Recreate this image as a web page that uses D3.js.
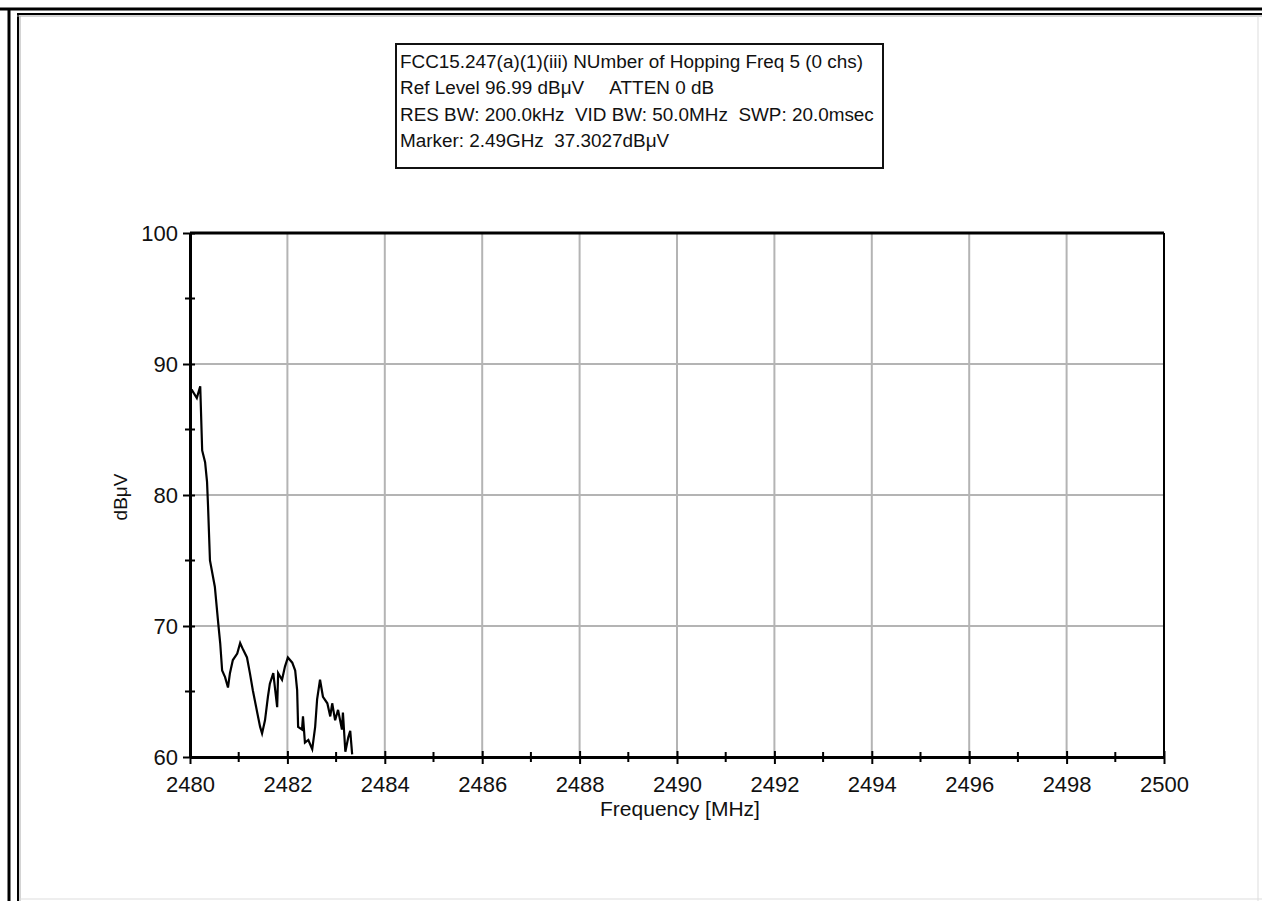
<!DOCTYPE html>
<html><head><meta charset="utf-8">
<script src="https://cdn.jsdelivr.net/npm/d3@7"></script>
<style>
html,body{margin:0;padding:0;background:#fff;}
svg{display:block;}
text{font-family:"Liberation Sans Narrow","Arial Narrow","Liberation Sans",Arial,sans-serif;fill:#111;}
</style></head>
<body>
<svg id="chart" width="1262" height="901"></svg>
<script>
const infoLines = [
  "FCC15.247(a)(1)(iii) NUmber of Hopping Freq 5 (0 chs)",
  "Ref Level 96.99 dB\u03BCV     ATTEN 0 dB",
  "RES BW: 200.0kHz  VID BW: 50.0MHz  SWP: 20.0msec",
  "Marker: 2.49GHz  37.3027dB\u03BCV"
];
const xTickValues = [2480,2482,2484,2486,2488,2490,2492,2494,2496,2498,2500];
const xMinorValues = [2481,2483,2485,2487,2489,2491,2493,2495,2497,2499];
const yTickValues = [60,70,80,90,100];
const yMinorValues = [65,75,85,95];
const xLabel = "Frequency [MHz]";
const yLabel = "dB\u03BCV";
const freq = [2480.00,2480.04,2480.14,2480.21,2480.25,2480.31,2480.35,2480.37,2480.41,2480.51,2480.58,2480.62,2480.66,2480.72,2480.78,2480.82,2480.88,2480.97,2481.03,2481.09,2481.17,2481.23,2481.29,2481.38,2481.44,2481.48,2481.54,2481.60,2481.64,2481.71,2481.75,2481.79,2481.81,2481.89,2481.95,2482.01,2482.10,2482.16,2482.20,2482.22,2482.30,2482.32,2482.36,2482.43,2482.51,2482.57,2482.61,2482.67,2482.73,2482.82,2482.88,2482.92,2482.98,2483.04,2483.12,2483.14,2483.19,2483.25,2483.29,2483.33];
const level = [88.0,88.0,87.4,88.3,83.4,82.5,81.0,79.2,75.0,73.0,70.2,68.7,66.6,66.1,65.3,66.4,67.4,67.9,68.7,68.2,67.6,66.4,65.1,63.4,62.3,61.8,62.8,64.6,65.6,66.4,65.1,63.8,66.4,65.9,66.9,67.6,67.2,66.6,65.1,62.3,62.1,63.1,61.1,61.3,60.6,62.3,64.4,65.9,64.6,64.1,63.1,64.1,62.8,63.6,62.1,63.4,60.4,61.5,62.0,60.2];

const svg = d3.select("#chart");
const W = 1262, H = 901;
// frame
svg.append("line").attr("x1",0).attr("x2",W).attr("y1",9).attr("y2",9).attr("stroke","#000").attr("stroke-width",3);
svg.append("line").attr("x1",9).attr("x2",9).attr("y1",9).attr("y2",H).attr("stroke","#000").attr("stroke-width",3);
svg.append("line").attr("x1",17).attr("x2",W).attr("y1",14).attr("y2",14).attr("stroke","#000").attr("stroke-width",2);
svg.append("line").attr("x1",18).attr("x2",18).attr("y1",14).attr("y2",H).attr("stroke","#000").attr("stroke-width",2);
svg.append("line").attr("x1",17).attr("x2",W).attr("y1",16).attr("y2",16).attr("stroke","#aaa").attr("stroke-width",1);
svg.append("line").attr("x1",20).attr("x2",20).attr("y1",16).attr("y2",H).attr("stroke","#aaa").attr("stroke-width",1);
svg.append("line").attr("x1",1258).attr("x2",1258).attr("y1",16).attr("y2",H).attr("stroke","#ddd").attr("stroke-width",1);
svg.append("line").attr("x1",20).attr("x2",W).attr("y1",899).attr("y2",899).attr("stroke","#ddd").attr("stroke-width",1);

const L = 190, R = 1164, T = 233, B = 757;
const x = d3.scaleLinear().domain([2480,2500]).range([L,R]);
const y = d3.scaleLinear().domain([60,100]).range([B,T]);

// grid
svg.append("g").selectAll("line").data(xTickValues.slice(1,-1)).join("line")
  .attr("x1",d=>x(d)).attr("x2",d=>x(d)).attr("y1",T).attr("y2",B)
  .attr("stroke","#b4b4b4").attr("stroke-width",2);
svg.append("g").selectAll("line").data(yTickValues.slice(1,-1)).join("line")
  .attr("x1",L).attr("x2",R).attr("y1",d=>y(d)).attr("y2",d=>y(d))
  .attr("stroke","#b4b4b4").attr("stroke-width",2);

// trace
svg.append("clipPath").attr("id","clip").append("rect").attr("x",L).attr("y",T).attr("width",R-L).attr("height",B-T);
svg.append("path").datum(freq.map((f,i)=>[f,level[i]]))
  .attr("clip-path","url(#clip)")
  .attr("d", d3.line().x(d=>x(d[0])).y(d=>y(d[1])))
  .attr("fill","none").attr("stroke","#000").attr("stroke-width",2.2).attr("stroke-linejoin","miter");

// plot border
svg.append("line").attr("x1",L).attr("x2",R).attr("y1",T).attr("y2",T).attr("stroke","#000").attr("stroke-width",3);
svg.append("line").attr("x1",R).attr("x2",R).attr("y1",T).attr("y2",B).attr("stroke","#000").attr("stroke-width",2);

// axes
const xAxis = d3.axisBottom(x).tickValues(xTickValues).tickSize(7).tickSizeOuter(0).tickPadding(8).tickFormat(d3.format("d"));
const gx = svg.append("g").attr("transform",`translate(0,${B})`).call(xAxis);
gx.select(".domain").attr("stroke","#000").attr("stroke-width",3);
gx.selectAll(".tick line").attr("stroke","#000").attr("stroke-width",2).attr("y1",-6);
gx.selectAll("text").attr("font-size",22).attr("fill","#111").attr("dy","0.9em");
svg.append("g").selectAll("line").data(xMinorValues).join("line")
  .attr("x1",d=>x(d)).attr("x2",d=>x(d)).attr("y1",B-5).attr("y2",B+5).attr("stroke","#000").attr("stroke-width",2);

const yAxis = d3.axisLeft(y).tickValues(yTickValues).tickSize(7).tickSizeOuter(0).tickPadding(5).tickFormat(d3.format("d"));
const gy = svg.append("g").attr("transform",`translate(${L},0)`).call(yAxis);
gy.select(".domain").attr("stroke","#000").attr("stroke-width",3);
gy.selectAll(".tick line").attr("stroke","#000").attr("stroke-width",2).attr("x1",-7).attr("x2",5);
gy.selectAll("text").attr("font-size",22).attr("fill","#111");
svg.append("g").selectAll("line").data(yMinorValues).join("line")
  .attr("x1",L-5).attr("x2",L+5).attr("y1",d=>y(d)).attr("y2",d=>y(d)).attr("stroke","#000").attr("stroke-width",2);

// axis labels
svg.append("text").attr("x",(L+R)/2+3).attr("y",816).attr("text-anchor","middle").attr("font-size",21).text(xLabel);
svg.append("text").attr("transform","translate(127,497) rotate(-90)").attr("text-anchor","middle").attr("font-size",19).text(yLabel);

// info box
const bx = 396, by = 44, bw = 487, bh = 124;
svg.append("rect").attr("x",bx).attr("y",by).attr("width",bw).attr("height",bh).attr("fill","#fff").attr("stroke","#111").attr("stroke-width",2);
svg.append("g").selectAll("text").data(infoLines).join("text")
  .attr("x",bx+4).attr("y",(d,i)=>by+24+i*26.3).attr("font-size",18.9).text(d=>d).style("white-space","pre");
</script>
</body></html>
